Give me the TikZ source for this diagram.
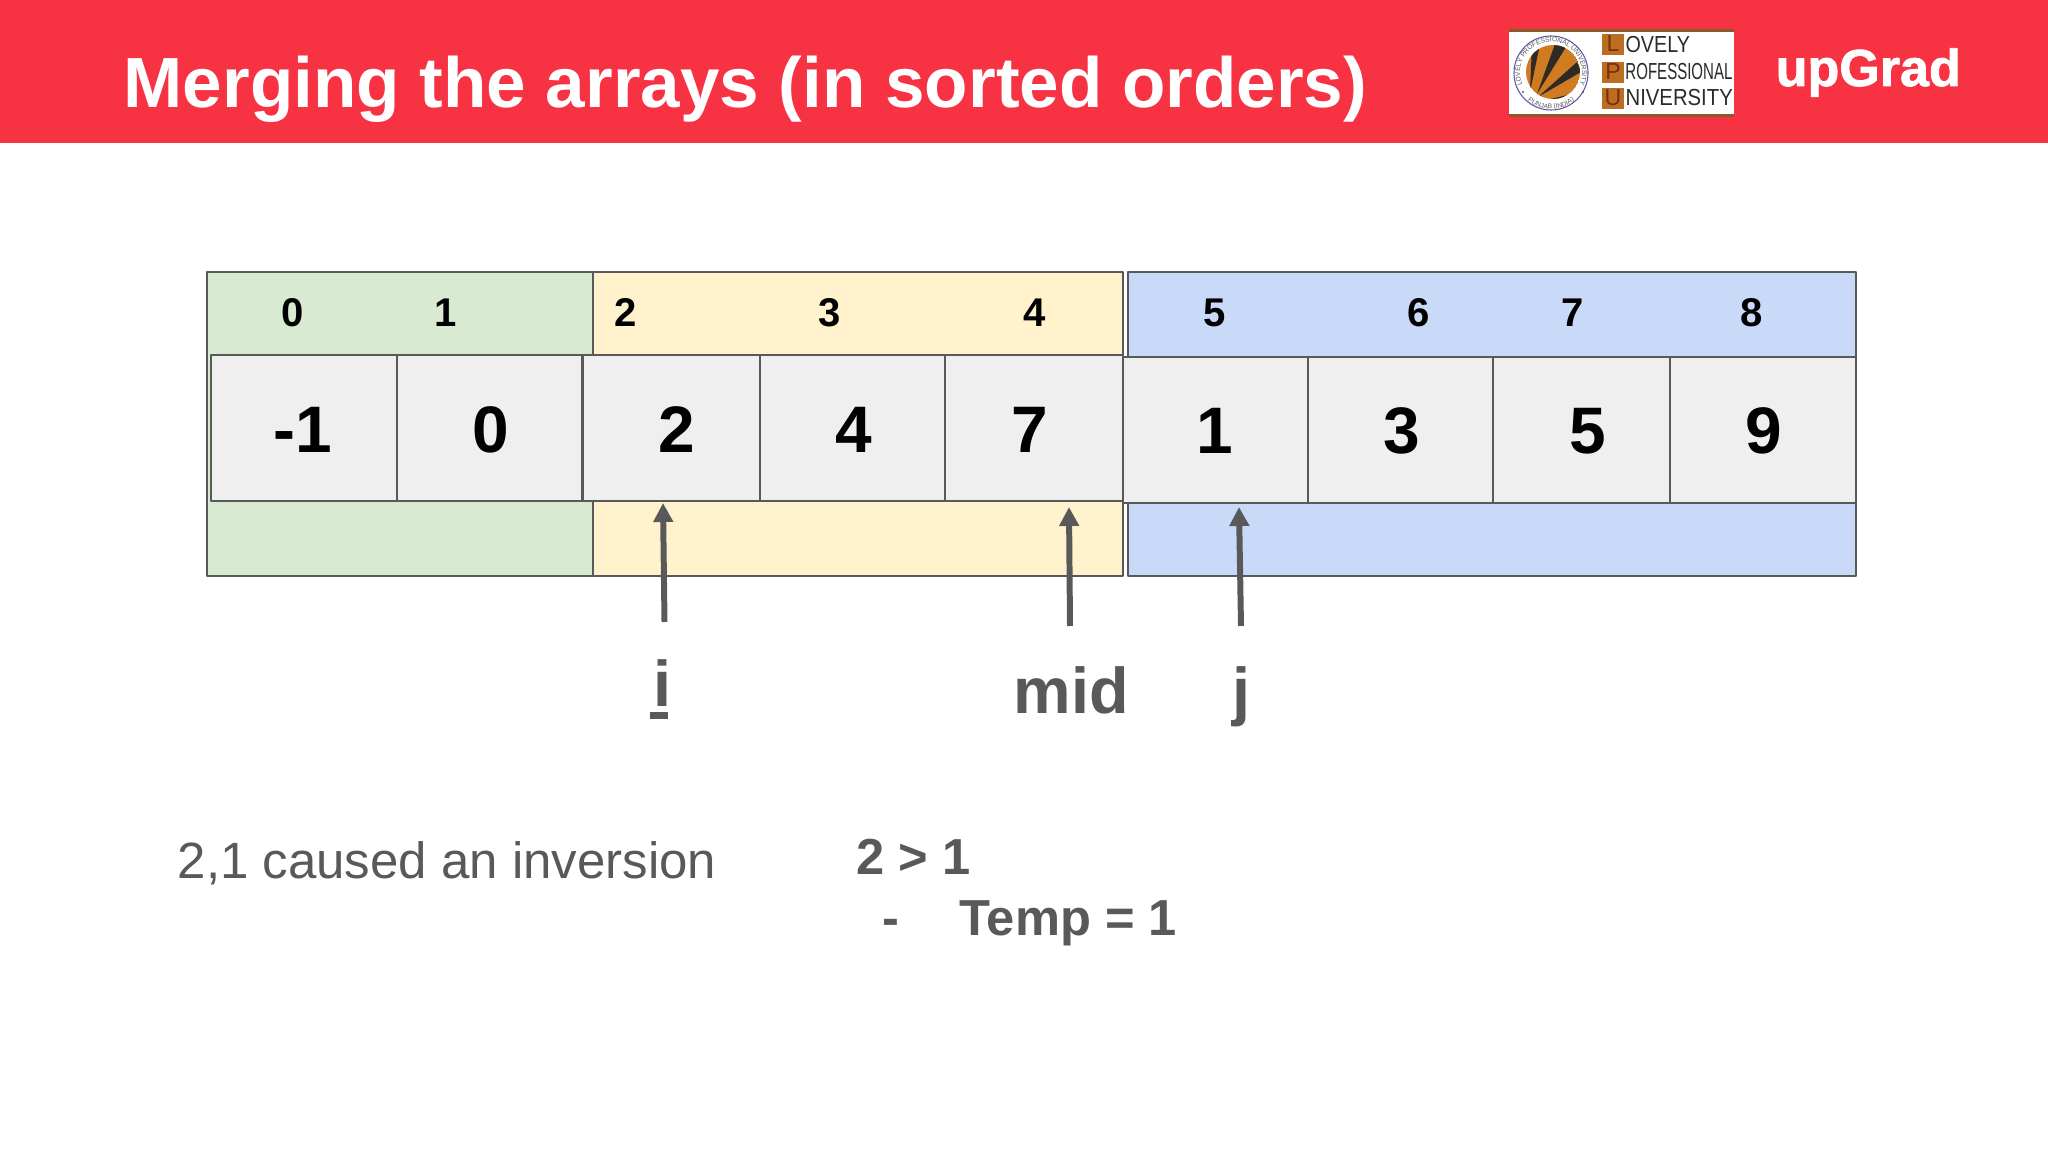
\documentclass[tikz,border=0pt]{standalone}
\usepackage{fontspec}
\usepackage{xcolor}
\setmainfont{Liberation Sans}
\newfontfamily\brandfont[FakeBold=1.5]{Liberation Sans Bold}
\usetikzlibrary{arrows.meta,decorations.text}
\definecolor{bannerred}{HTML}{F63243}
\definecolor{groupgreen}{HTML}{D9EAD3}
\definecolor{groupyellow}{HTML}{FFF2CC}
\definecolor{groupblue}{HTML}{C9DAF8}
\definecolor{cellgray}{HTML}{EFEFEF}
\definecolor{inkgray}{HTML}{595959}
\definecolor{lpuorange}{HTML}{D07A22}
\definecolor{lpubrown}{HTML}{8A5A2B}
\definecolor{lpudark}{HTML}{2E2A26}
\definecolor{lpuletter}{HTML}{7A2E12}
\tikzset{
  groupbox/.style={draw=inkgray,line width=0.6pt},
  cellbox/.style={draw=inkgray,line width=0.6pt,fill=cellgray},
  indexlabel/.style={anchor=base,inner sep=0pt,text=black,font=\fontsize{11.4}{13}\selectfont\bfseries},
  valuelabel/.style={anchor=base,inner sep=0pt,text=black,font=\fontsize{18.7}{22}\selectfont\bfseries},
  pointer/.style={draw=inkgray,line width=1.7pt,-{Triangle[length=5.4pt,width=5.4pt]}},
  pointerlabel/.style={anchor=base,inner sep=0pt,text=inkgray,font=\fontsize{18.4}{22}\selectfont\bfseries},
  notetext/.style={anchor=base west,inner sep=0pt,text=inkgray,font=\fontsize{14.5}{17}\selectfont},
  notebold/.style={notetext,font=\fontsize{14.4}{17}\selectfont\bfseries},
  lpubox/.style={fill=lpuorange!90!black},
  lpucap/.style={anchor=base,inner sep=0pt,text=lpuletter,font=\fontsize{6.6}{8}\selectfont},
  lpuword/.style={anchor=base west,inner sep=0pt,text=lpudark,transform shape,font=\fontsize{6.6}{8}\selectfont},
}
\begin{document}
\begin{tikzpicture}[x=0.01cm,y=-0.01cm,>=Stealth,line join=round]
  \useasboundingbox (0,0) rectangle (2048,1152);
  \fill[white] (0,0) rectangle (2048,1152);
  \fill[bannerred] (0,0) rectangle (2048,143);
  \node[anchor=base west,inner sep=0pt,text=white,font=\fontsize{20.2}{25}\selectfont\bfseries] (title) at (123,108) {Merging the arrays (in sorted orders)};
  \fill[white] (1509,29) rectangle (1734,117);
  \fill[lpubrown] (1509,29) rectangle (1734,32);
  \fill[lpubrown] (1509,114) rectangle (1734,117);
  \coordinate (seal) at (1551,73);
  \coordinate (disc) at (1553,72);
  \draw[gray!70!blue,line width=0.3pt] (seal) circle[radius=.37cm];
  \begin{scope}
    \clip (disc) circle[radius=.27cm];
    \fill[lpuorange] (disc) circle[radius=.27cm];
    \fill[lpudark] (1530,92) -- (1532,44) -- (1540,44) -- cycle;
    \fill[lpudark] (1537,94) -- (1555,44) -- (1566,47) -- cycle;
    \fill[lpudark] (1538,97) -- (1577,62) -- (1581,72) -- cycle;
    \fill[lpudark] (1542,101) -- (1572,94) -- (1563,100) -- cycle;
  \end{scope}
  \path[decorate,decoration={text along path,text align=center,text={|\fontsize{1.9}{3}\selectfont\color{inkgray}|LOVELY PROFESSIONAL UNIVERSITY}}] (seal) ++(205:.31cm) arc[start angle=205,end angle=-25,radius=.31cm];
  \path[decorate,decoration={text along path,text align=center,text={|\fontsize{1.9}{3}\selectfont\color{inkgray}|PUNJAB (INDIA)}}] (seal) ++(227:.36cm) arc[start angle=227,end angle=313,radius=.36cm];
  \fill[inkgray] (1523,92) circle[radius=.012cm];
  \fill[inkgray] (1583,92) circle[radius=.012cm];
  \fill[lpubox] (1602,34) rectangle (1624,55);
  \fill[lpubox] (1602,62) rectangle (1624,83);
  \fill[lpubox] (1602,88) rectangle (1624,109);
  \node[lpucap] (letterL) at (1613,52) {L};
  \node[lpucap] (letterP) at (1613,80) {P};
  \node[lpucap] (letterU) at (1613,106) {U};
  \node[lpuword,xscale=0.85] (wordL) at (1625,53) {OVELY};
  \node[lpuword,xscale=0.648] (wordP) at (1625,80) {ROFESSIONAL};
  \node[lpuword,xscale=0.875] (wordU) at (1625,106) {NIVERSITY};
  \node[anchor=base west,inner sep=0pt,text=white,font=\fontsize{14.8}{18}\brandfont] (brand) at (1775,86) {upGrad};
  \draw[groupbox,fill=groupgreen] (207,272) rectangle (593,576);
  \draw[groupbox,fill=groupyellow] (593,272) rectangle (1123,576);
  \draw[groupbox,fill=groupblue] (1128,272) rectangle (1856,576);
  \node[indexlabel] (idx0) at (293,327) {0};
  \node[indexlabel] (idx1) at (446,327) {1};
  \node[indexlabel] (idx2) at (626,327) {2};
  \node[indexlabel] (idx3) at (830,327) {3};
  \node[indexlabel] (idx4) at (1035,327) {4};
  \node[indexlabel] (idx5) at (1215,327) {5};
  \node[indexlabel] (idx6) at (1419,327) {6};
  \node[indexlabel] (idx7) at (1573,327) {7};
  \node[indexlabel] (idx8) at (1752,327) {8};
  \draw[cellbox] (211,355) rectangle (397,501);
  \draw[cellbox] (397,355) rectangle (582.5,501);
  \draw[cellbox] (582.5,355) rectangle (760,501);
  \draw[cellbox] (760,355) rectangle (945,501);
  \draw[cellbox] (945,355) rectangle (1123,501);
  \draw[cellbox] (1123,357) rectangle (1308,503);
  \draw[cellbox] (1308,357) rectangle (1493,503);
  \draw[cellbox] (1493,357) rectangle (1670,503);
  \draw[cellbox] (1670,357) rectangle (1856,503);
  \node[valuelabel] (val0) at (303,453) {-1};
  \node[valuelabel] (val1) at (491,453) {0};
  \node[valuelabel] (val2) at (677,453) {2};
  \node[valuelabel] (val3) at (854,453) {4};
  \node[valuelabel] (val4) at (1030,453) {7};
  \node[valuelabel] (val5) at (1215,454) {1};
  \node[valuelabel] (val6) at (1402,454) {3};
  \node[valuelabel] (val7) at (1588,454) {5};
  \node[valuelabel] (val8) at (1764,454) {9};
  \coordinate (fromi) at (664.5,622);
  \coordinate (toi) at (663,503);
  \coordinate (frommid) at (1070,626);
  \coordinate (tomid) at (1069,507);
  \coordinate (fromj) at (1241,626);
  \coordinate (toj) at (1239,507);
  \draw[pointer] (fromi) -- (toi);
  \draw[pointer] (frommid) -- (tomid);
  \draw[pointer] (fromj) -- (toj);
  \node[pointerlabel] (labeli) at (662,706) {\makebox[0pt][l]{\hspace{-.8pt}\rule[-3.7pt]{5.1pt}{2pt}}i};
  \node[pointerlabel] (labelmid) at (1071,713) {mid};
  \node[pointerlabel] (labelj) at (1241,713) {j};
  \node[notetext] (inversion) at (177,878) {2,1 caused an inversion};
  \node[notebold] (compare) at (856,874) {2 > 1};
  \node[notebold] (dash) at (882,935) {-};
  \node[notebold] (temp) at (959,935) {Temp = 1};
\end{tikzpicture}
\end{document}
